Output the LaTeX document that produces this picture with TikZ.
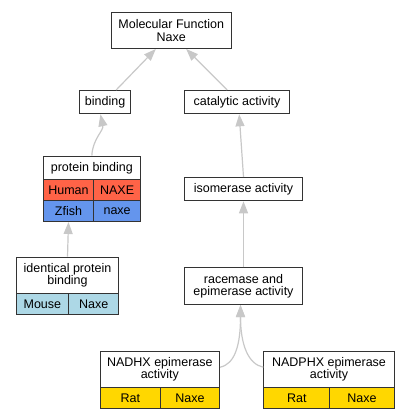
\documentclass[tikz,border=0pt]{standalone}
\usepackage{fontspec}
\setmainfont{Liberation Sans}
\usetikzlibrary{arrows.meta,calc}
\definecolor{tomatoc}{HTML}{FF6347}
\definecolor{cornflower}{HTML}{6495ED}
\definecolor{lightbluec}{HTML}{ADD8E6}
\definecolor{goldc}{HTML}{FFD700}
\definecolor{edgegray}{HTML}{C8C8C8}
\begin{document}
\begin{tikzpicture}[x=1pt,y=-1pt,
  box/.style={draw=black!80, line width=1pt, anchor=north west, inner sep=0pt, align=center, font=\fontsize{12.5}{12.5}\selectfont, text=black, fill=white},
  edge/.style={draw=edgegray, line width=1.2pt, -{Triangle[length=12pt,width=9pt]}},
]
\useasboundingbox (0,0) rectangle (408,419);
% nodes
\node[box, minimum width=120.2pt, minimum height=36.3pt] (mf) at (110.6,11.7) {Molecular Function\\Naxe};
\node[box, minimum width=50.7pt, minimum height=23.3pt] (bind) at (79.3,90) {binding};
\node[box, minimum width=105.6pt, minimum height=23.3pt] (cat) at (183.7,90) {catalytic activity};
% protein binding table
\node[box, minimum width=97.3pt, minimum height=23.3pt] (pb) at (42.7,155.7) {protein binding};
\node[box, fill=tomatoc, minimum width=50.6pt, minimum height=21pt] (pbh1) at (42.7,179) {Human};
\node[box, fill=tomatoc, minimum width=46.7pt, minimum height=21pt] (pbh2) at (93.3,179) {NAXE};
\node[box, fill=cornflower, minimum width=50.6pt, minimum height=21pt] (pbz1) at (42.7,200) {Zfish};
\node[box, fill=cornflower, minimum width=46.7pt, minimum height=21pt] (pbz2) at (93.3,200) {naxe};
% isomerase, racemase
\node[box, minimum width=117.4pt, minimum height=23.3pt] (iso) at (184.3,177) {isomerase activity};
\node[box, minimum width=117.4pt, minimum height=36.7pt] (rac) at (184.3,267.3) {racemase and\\epimerase activity};
% identical protein binding
\node[box, minimum width=102.6pt, minimum height=36.6pt] (ipb) at (15.7,256.7) {identical protein\\binding};
\node[box, fill=lightbluec, minimum width=52.3pt, minimum height=21pt] (ipbm) at (15.7,293.3) {Mouse};
\node[box, fill=lightbluec, minimum width=50.3pt, minimum height=21pt] (ipbn) at (68,293.3) {Naxe};
% NADHX
\node[box, minimum width=119.3pt, minimum height=36pt] (nadh) at (99.7,350.7) {NADHX epimerase\\activity};
\node[box, fill=goldc, minimum width=60.3pt, minimum height=21.6pt] (nadhr) at (99.7,386.7) {Rat};
\node[box, fill=goldc, minimum width=59pt, minimum height=21.6pt] (nadhn) at (160,386.7) {Naxe};
% NADPHX
\node[box, minimum width=130.4pt, minimum height=36pt] (nadph) at (263.3,350.7) {NADPHX epimerase\\activity};
\node[box, fill=goldc, minimum width=66pt, minimum height=21.6pt] (nadphr) at (263.3,386.7) {Rat};
\node[box, fill=goldc, minimum width=64.4pt, minimum height=21.6pt] (nadphn) at (329.3,386.7) {Naxe};
% edges
\draw[edge] ($(bind.north)+(11,0)$) -- ($(mf.south)+(-15.4,0)$);
\draw[edge] ($(cat.north)+(-9.8,0)$) -- ($(mf.south)+(15,0)$);
\draw[edge] (pb.north) to[out=88,in=-78] ($(bind.south)+(-4.7,0)$);
\draw[edge] (iso.north) -- ($(cat.south)+(2.2,0)$);
\draw[edge] (rac.north) -- (iso.south);
\draw[edge] (ipb.north) -- (pbz1.south);
\draw[edge] ($(nadh.east)+(0,-2)$) .. controls +(15,-3) and +(0,40) .. ($(rac.south)+(-3,0)$);
\draw[edge] ($(nadph.west)+(0,-2)$) .. controls +(-15,-3) and +(0,40) .. ($(rac.south)+(-3,0)$);
\end{tikzpicture}
\end{document}
